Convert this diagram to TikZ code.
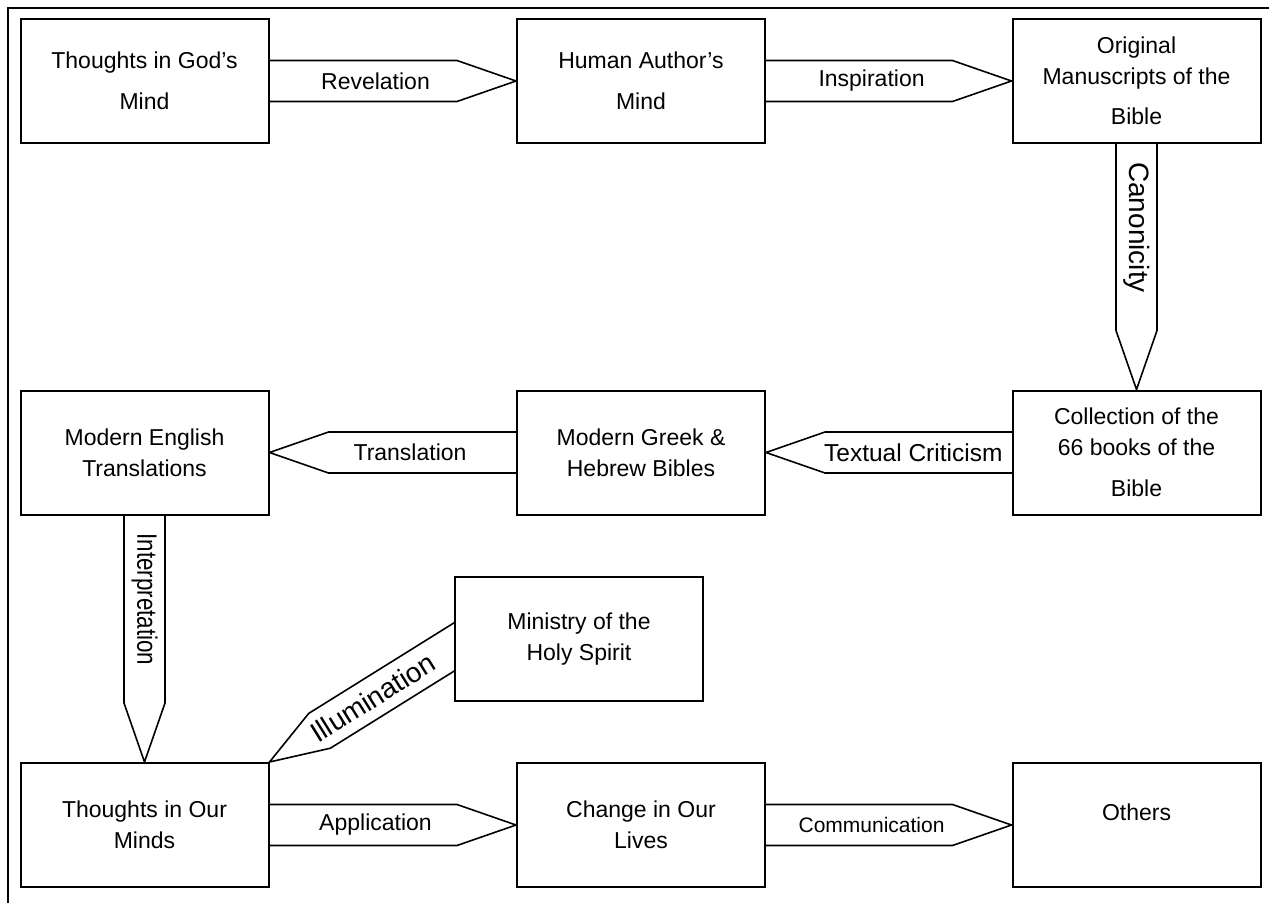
\documentclass[tikz,border=0pt]{standalone}
\usepackage{fontspec}
\setmainfont{Liberation Sans}
\usetikzlibrary{calc}
\pgfdeclarelayer{background}
\pgfsetlayers{background,main}
\newcommand{\halfw}{20.5pt}
\newcommand{\tiplen}{59pt}
\newcommand{\BoxFont}{\fontsize{23}{31}\selectfont}
\newcommand{\LabelFont}{\fontsize{23}{23}\selectfont}
\newcommand{\BigFont}{\fontsize{28}{28}\selectfont}
\newcommand{\BlockArrow}[5]{%
    \begin{pgfonlayer}{background}
        \coordinate (ba0) at ($(#1)!-20pt!(#2)$);
        \coordinate (ba1) at ($(#2)!\tiplen!(#1)$);
        \draw[ArrowStyle] ($(ba0)!\halfw!90:(#2)$) -- ($(ba1)!\halfw!90:(#2)$) -- (#2)
            -- ($(ba1)!\halfw!-90:(#2)$) -- ($(ba0)!\halfw!-90:(#2)$);
    \end{pgfonlayer}
    \node[LabelStyle,#4] at ($(#1)!#3!(#2)$) {#5};
}

\begin{document}
\begin{tikzpicture}[x=1pt,y=-1pt]
        \tikzset{BoxStyle/.style = {draw, line width=2pt, fill=white, minimum width=248pt,
                     minimum height=124pt, inner sep=0pt, align=center, font=\BoxFont},
                 ArrowStyle/.style = {line width=1.6pt, line join=miter},
                 LabelStyle/.style = {font=\LabelFont, inner sep=0pt}}
        \useasboundingbox (0,0) rectangle (1269,903);
        \draw[line width=2.8pt] (8,903) -- (8,8) -- (1269,8);
        % boxes
        \node[BoxStyle] (god) at (144.5,81) {Thoughts in God's\\[10pt]Mind};
        \node[BoxStyle] (author) at (641,81) {Human Author's\\[10pt]Mind};
        \node[BoxStyle] (originals) at (1136.5,81) {Original\\Manuscripts of the\\[9pt]Bible};
        \node[BoxStyle] (collection) at (1136.5,452.5) {Collection of the\\66 books of the\\[10pt]Bible};
        \node[BoxStyle] (greek) at (641,452.5) {Modern Greek \&\\Hebrew Bibles};
        \node[BoxStyle] (english) at (144.5,452.5) {Modern English\\Translations};
        \node[BoxStyle] (spirit) at (579,639) {Ministry of the\\Holy Spirit};
        \node[BoxStyle] (ourminds) at (144.5,825) {Thoughts in Our\\Minds};
        \node[BoxStyle] (lives) at (641,825) {Change in Our\\Lives};
        \node[BoxStyle, text depth=26pt] (others) at (1136.5,825) {Others};
        \coordinate (spiritout) at ($(spirit.west)+(0,8)$);
        % block arrows
        \BlockArrow{god.east}{author.west}{0.43}{}{Revelation}
        \BlockArrow{author.east}{originals.west}{0.43}{}{Inspiration}
        \BlockArrow{originals.south}{collection.north}{0.34}{rotate=-90,font=\BigFont}{Canonicity}
        \BlockArrow{collection.west}{greek.east}{0.40}{font=\fontsize{24.5}{24.5}\selectfont}{Textual Criticism}
        \BlockArrow{greek.west}{english.east}{0.43}{}{Translation}
        \BlockArrow{english.south}{ourminds.north}{0.34}{rotate=-90,font=\BigFont}{\scalebox{0.8}[1]{Interpretation}}
        \BlockArrow{spiritout}{ourminds.north east}{0.44}{rotate=32,font=\BigFont}{Illumination}
        \BlockArrow{ourminds.east}{lives.west}{0.43}{}{Application}
        \BlockArrow{lives.east}{others.west}{0.43}{font=\fontsize{21}{21}\selectfont}{Communication}
\end{tikzpicture}
\end{document}
